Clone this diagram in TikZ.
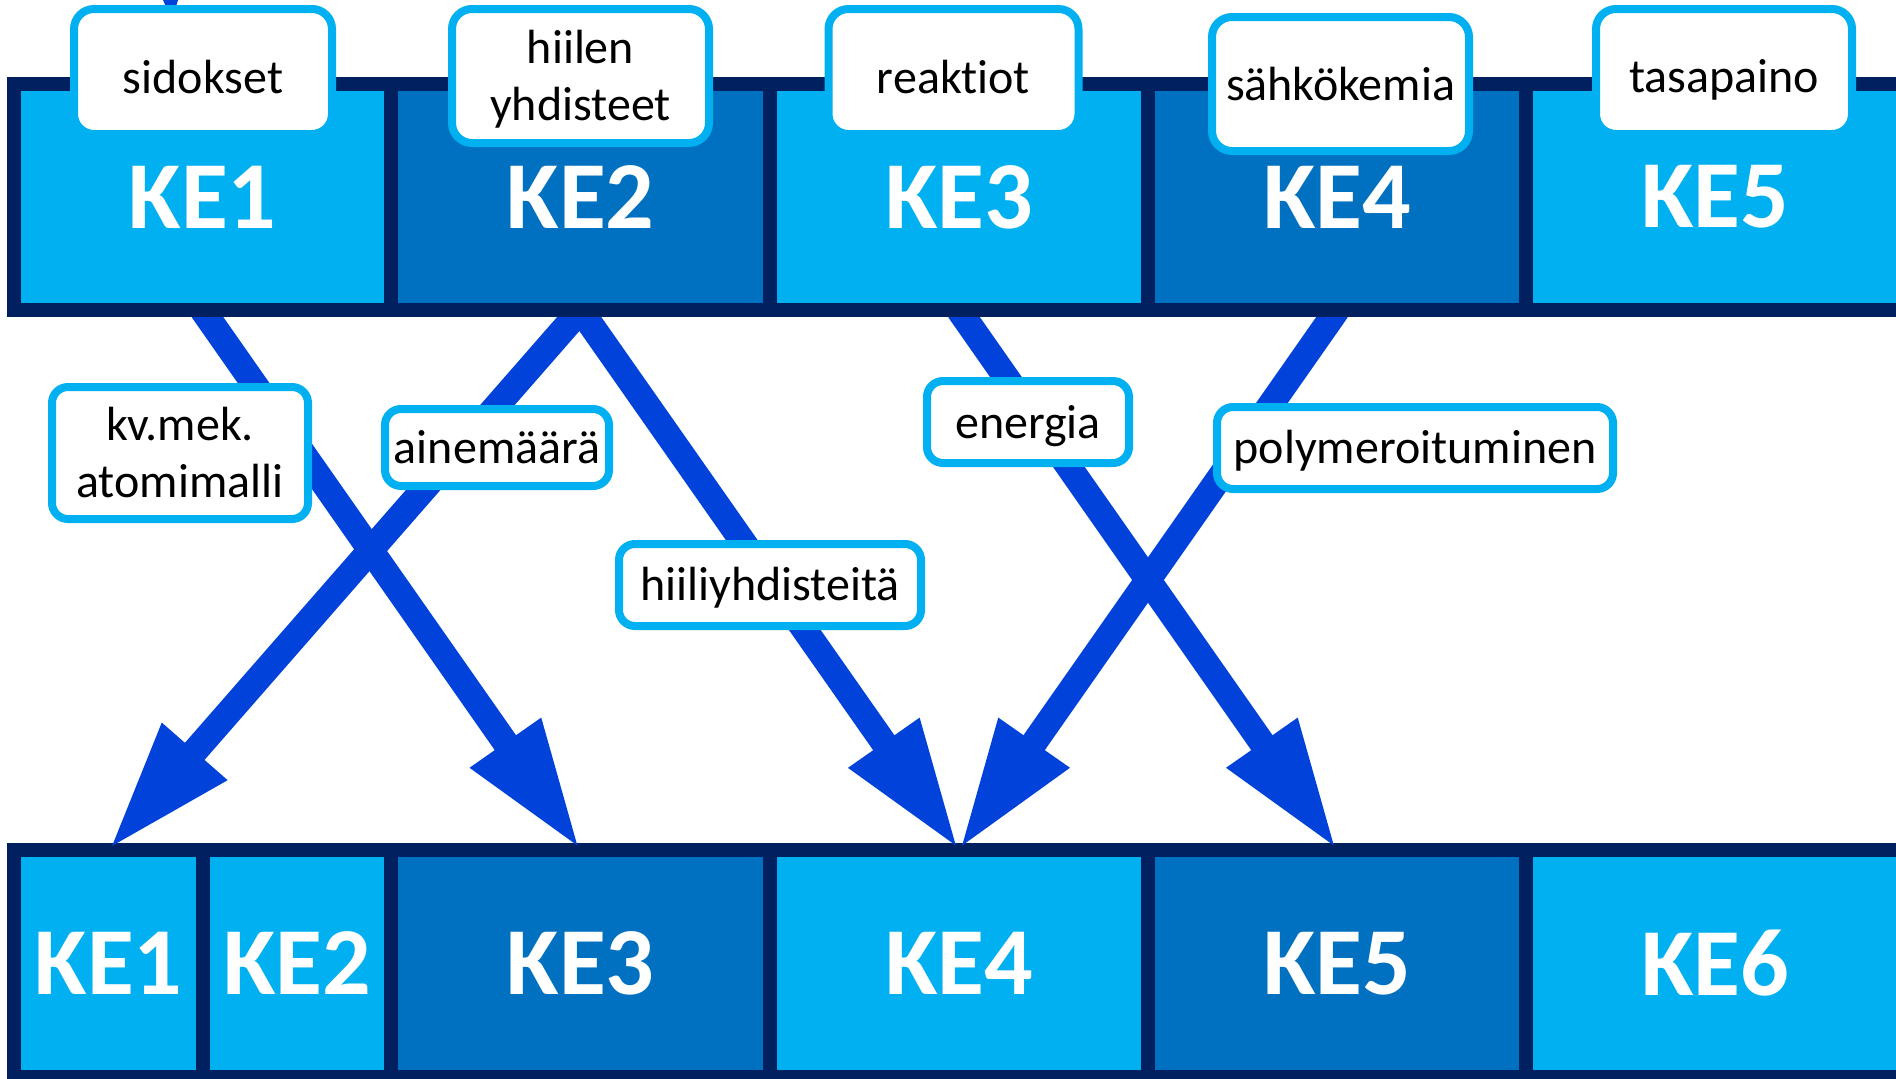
\documentclass[tikz,border=0pt]{standalone}
\usepackage{fontspec}
\setmainfont{Carlito}[Ligatures=CommonOff]
\usetikzlibrary{arrows.meta}
\pgfdeclarelayer{back}
\pgfdeclarelayer{arrowlayer}
\pgfsetlayers{back,arrowlayer,main}
\definecolor{navy}{RGB}{0,32,96}
\definecolor{lightc}{RGB}{0,176,240}
\definecolor{darkc}{RGB}{0,112,192}
\definecolor{arrowblue}{RGB}{0,66,218}
\definecolor{boxline}{RGB}{0,176,240}
\tikzset{
  cell/.style={draw=navy, line width=14pt, outer sep=0pt, inner sep=0pt,
    text=white, font=\fontsize{96}{115}\selectfont\bfseries},
  cellL/.style={cell, fill=lightc},
  cellD/.style={cell, fill=darkc},
  topcell/.style={minimum height=226pt},
  botcell/.style={minimum height=227pt},
  lbox/.style={draw=boxline, line width=8pt, fill=white, rounded corners=20pt,
    inner sep=0pt, outer sep=0pt},
  mbox/.style={lbox, rounded corners=16pt},
  ltext/.style={text=black, font=\fontsize{48}{57}\selectfont, inner sep=0pt,
    anchor=base, align=center},
  conn/.style={draw=arrowblue, line width=26pt, -{Triangle[length=131pt,width=79pt]}},
}
\begin{document}
\begin{tikzpicture}[x=1pt, y=-1pt]
\useasboundingbox (0,0) rectangle (1896,1079);

% bottom row
\begin{pgfonlayer}{back}
\node[cellL, botcell, minimum width=189pt] (b1) at (108.5,963.5) {KE1};
\node[cellL, botcell, minimum width=188pt] (b2) at (297,963.5) {KE2};
\node[cellD, botcell, minimum width=379pt] (b3) at (580.5,963.5) {KE3};
\node[cellL, botcell, minimum width=378pt] (b4) at (959,963.5) {KE4};
\node[cellD, botcell, minimum width=378pt] (b5) at (1337,963.5) {KE5};
\node[cellL, botcell, minimum width=378pt] (b6) at (1715,963.5) {KE6};
\end{pgfonlayer}

% top row
\node[cellL, topcell, minimum width=377pt] (t1) at (202.5,197) {KE1};
\node[cellD, topcell, minimum width=379pt] (t2) at (580.5,197) {KE2};
\node[cellL, topcell, minimum width=378pt] (t3) at (959,197) {KE3};
\node[cellD, topcell, minimum width=378pt] (t4) at (1337,197) {KE4};
\node[cellL, topcell, minimum width=378pt] (t5) at (1715,197) {KE5};

% arrows
\begin{pgfonlayer}{arrowlayer}
\fill[arrowblue] (163,0) -- (178,0) -- (176,7) -- (166,7) -- cycle;
\draw[conn] (t1.south) -- (b3.north);
\draw[conn] (t2.south) -- (b1.north);
\draw[conn] (t2.south) -- (b4.north);
\draw[conn] (t3.south) -- (b5.north);
\draw[conn] (t4.south) -- (b4.north);
\end{pgfonlayer}

% top labels
\node[lbox, minimum width=258pt, minimum height=125pt] (l1) at (203,71.5) {};
\node[ltext] (l1t) at (203,93) {sidokset};
\node[lbox, minimum width=257pt, minimum height=134pt] (l2) at (580.5,76) {};
\node[ltext] (l2t) at (580.5,120) {hiilen\\yhdisteet};
\node[lbox, minimum width=250pt, minimum height=125pt] (l3) at (953.5,71.5) {};
\node[ltext] (l3t) at (953.5,93) {reaktiot};
\node[lbox, minimum width=257pt, minimum height=134pt] (l4) at (1340.5,84) {};
\node[ltext] (l4t) at (1340.5,100) {sähkökemia};
\node[lbox, minimum width=256pt, minimum height=125pt] (l5) at (1724,71.5) {};
\node[ltext] (l5t) at (1724,92) {tasapaino};

% middle labels
\node[mbox, minimum width=256pt, minimum height=132pt] (m1) at (180,453) {};
\node[ltext] (m1t) at (180,497) {kv.mek.\\atomimalli};
\node[mbox, minimum width=224pt, minimum height=77pt] (m2) at (497,447.5) {};
\node[ltext] (m2t) at (497,463) {ainemäärä};
\node[mbox, minimum width=302pt, minimum height=82pt] (m3) at (770,585) {};
\node[ltext] (m3t) at (770,600) {hiiliyhdisteitä};
\node[mbox, minimum width=202pt, minimum height=82pt] (m4) at (1028,422) {};
\node[ltext] (m4t) at (1028,438) {energia};
\node[mbox, minimum width=396pt, minimum height=82pt] (m5) at (1415,448) {};
\node[ltext] (m5t) at (1415,463) {polymeroituminen};
\end{tikzpicture}
\end{document}
